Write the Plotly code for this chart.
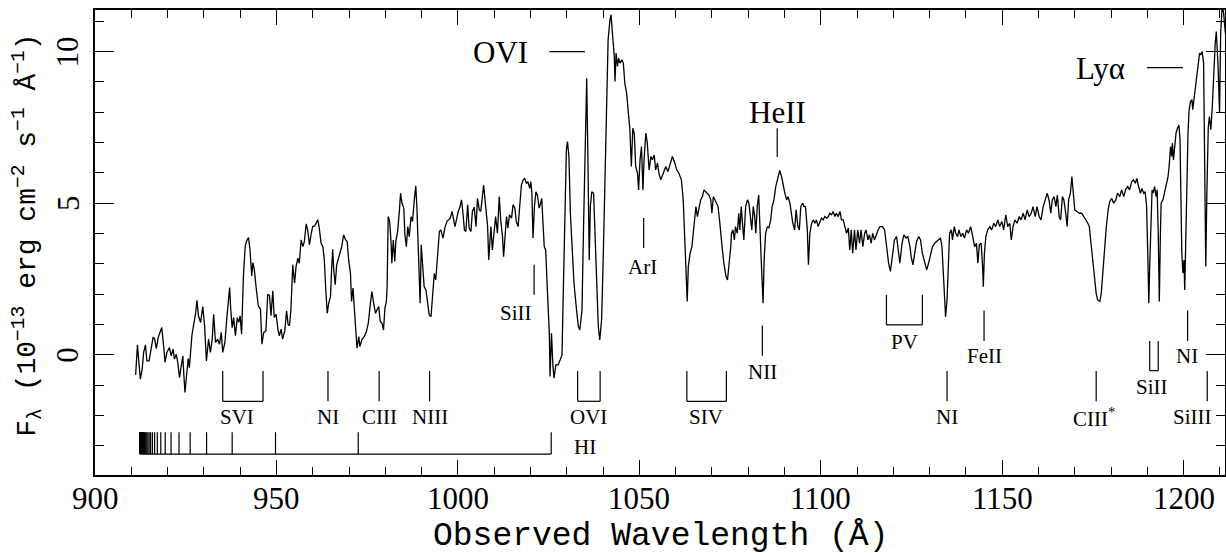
import plotly.graph_objects as go

# ---------------- spectrum ----------------
wavelength = [
911.2, 911.7, 912.1, 912.5, 913.0, 913.4, 913.9, 914.3, 914.9, 915.5, 916.0, 916.4, 916.9, 917.4, 918.0, 918.4,
918.9, 919.3, 919.8, 920.5, 921.0, 921.5, 921.9, 922.4, 922.8, 923.3, 923.7, 924.2, 924.5, 924.8, 925.3, 925.7,
926.0, 926.7, 927.2, 927.7, 928.1, 928.5, 929.1, 929.7, 930.2, 930.7, 931.3, 931.8, 932.3, 932.7, 933.2, 933.8,
934.3, 934.8, 935.2, 935.8, 936.3, 936.8, 937.1, 937.4, 937.8, 938.2, 938.7, 939.2, 939.6, 940.0, 940.4, 940.9,
941.4, 941.8, 942.3, 942.7, 943.2, 943.5, 943.9, 944.4, 945.0, 945.6, 946.0, 946.5, 947.1, 947.6, 948.1, 948.5,
949.0, 949.4, 949.9, 950.4, 950.8, 951.3, 951.7, 952.3, 952.8, 953.2, 953.6, 954.0,
954.5, 955.0, 955.4, 955.9, 956.3, 956.8, 957.3, 957.7, 958.2, 958.6, 959.1, 959.6, 960.0, 960.5, 960.9, 961.4,
961.8, 962.3, 962.8, 963.2, 963.6, 964.0, 964.4, 964.9, 965.2, 965.5, 965.8, 966.2, 966.6, 967.1, 967.6, 968.0,
968.5, 969.0, 969.5, 969.9, 970.4, 970.7, 971.1, 971.5, 971.8, 972.2, 972.7, 973.0, 973.6, 974.2, 974.8, 975.3,
975.9, 976.3, 976.8, 977.3, 977.7, 978.2, 978.6, 979.1, 979.5, 979.9, 980.3, 980.5, 980.8, 981.2, 981.6, 981.8,
982.2, 982.6, 982.9, 983.4, 983.9, 984.2, 984.6, 985.1, 985.4, 985.8, 986.2, 986.6, 987.1, 987.5, 988.0, 988.4,
988.7, 989.1, 989.4, 989.6, 989.9, 990.3, 990.7, 991.2, 991.7, 992.1, 992.6, 993.0, 993.5, 993.9, 994.4, 994.9,
995.3, 995.9, 996.4, 997.0, 997.4, 997.9, 998.4, 998.8, 999.2, 999.6, 1000.1, 1000.6, 1001.0, 1001.4, 1001.8, 1002.2,
1002.7, 1003.1, 1003.6, 1004.0, 1004.5, 1005.0, 1005.4, 1005.9, 1006.3, 1006.8, 1007.1, 1007.4, 1007.8, 1008.2, 1008.5,
1008.8, 1009.1, 1009.5, 1010.0, 1010.4, 1010.9, 1011.4, 1011.8, 1012.3, 1012.6, 1012.9, 1013.4, 1013.8, 1014.2, 1014.8,
1015.2, 1015.7, 1016.1, 1016.6, 1017.1, 1017.5, 1018.0, 1018.4, 1018.9, 1019.3, 1019.8, 1020.1, 1020.4, 1020.7, 1021.1,
1021.5, 1021.9, 1022.4, 1022.8, 1023.1,
1023.8, 1024.2, 1024.7, 1025.2, 1025.4, 1025.8, 1026.2, 1026.5, 1027.0, 1027.6, 1028.2, 1028.7, 1029.0, 1029.5, 1029.9,
1030.2, 1030.6, 1031.0, 1031.5, 1032.0, 1032.7, 1033.2, 1033.6, 1034.2, 1034.6, 1035.1, 1035.5, 1035.8, 1036.2, 1036.5,
1036.9, 1037.4, 1037.7, 1038.2, 1038.7, 1039.1, 1039.6, 1040.0, 1040.5, 1040.9, 1041.4, 1041.9, 1042.2, 1042.6, 1043.1,
1043.3, 1043.6, 1044.0, 1044.3, 1044.7, 1045.2, 1045.6, 1046.0, 1046.5, 1046.9, 1047.4, 1047.8, 1048.2, 1048.6, 1049.0,
1049.5, 1049.8, 1050.2, 1050.6, 1051.0, 1051.3, 1051.8, 1052.2, 1052.7, 1053.2, 1053.6, 1054.1, 1054.5, 1055.0, 1055.4,
1055.9, 1056.6, 1057.3, 1057.9, 1058.7, 1059.1, 1059.8, 1060.3, 1060.9, 1061.6, 1062.1, 1062.6, 1063.0, 1063.2, 1063.5,
1064.0, 1064.5, 1064.9, 1065.3, 1065.6, 1066.0, 1066.4, 1066.9, 1067.4, 1067.8, 1068.3, 1068.8, 1069.2, 1069.7, 1070.0,
1070.4, 1070.8, 1071.2, 1071.7, 1072.1, 1072.4, 1072.9, 1073.3, 1073.9, 1074.3, 1074.7, 1075.2, 1075.4, 1075.8, 1076.2,
1076.5, 1077.0, 1077.4, 1077.7, 1078.1, 1078.5, 1078.8, 1079.3, 1079.8, 1080.2, 1080.7, 1081.0, 1081.4, 1081.8, 1082.1,
1082.5, 1082.9, 1083.2, 1083.6, 1084.1, 1084.4, 1084.8, 1085.3, 1085.7, 1086.2, 1086.6, 1087.1, 1087.6, 1088.2, 1088.7,
1089.2, 1089.7, 1090.1, 1090.6, 1091.0, 1091.5, 1091.9, 1092.3, 1092.8, 1093.2, 1093.7, 1094.1, 1094.5, 1095.0, 1095.4,
1095.8, 1096.3, 1096.6, 1097.0, 1097.5, 1097.9, 1098.4, 1098.8, 1099.3, 1099.8, 1100.2, 1100.7, 1101.1, 1101.6, 1102.1,
1102.5, 1103.0, 1103.4, 1103.9, 1104.3, 1104.8, 1105.3, 1105.7, 1106.2, 1106.6, 1107.1, 1107.6, 1108.0, 1108.4, 1108.8,
1109.3, 1109.7, 1110.2, 1110.7, 1111.1, 1111.6, 1112.1, 1112.5, 1113.0, 1113.4, 1113.9, 1114.3, 1114.8, 1115.4, 1115.8,
1116.3,
1117.0, 1117.6, 1118.1, 1118.7, 1119.2, 1119.8, 1120.3, 1120.9, 1121.4, 1121.8, 1122.4, 1122.9, 1123.5, 1124.0, 1124.6,
1124.9, 1125.4, 1125.8, 1126.4, 1127.0, 1127.5, 1128.0, 1128.6, 1129.2, 1129.7, 1130.3, 1130.8, 1131.4, 1131.9, 1132.5,
1133.0, 1133.4, 1133.7, 1134.1, 1134.4, 1134.8, 1135.1, 1135.5, 1136.0, 1136.3, 1136.8, 1137.2, 1137.7, 1138.1, 1138.6,
1139.1, 1139.6, 1140.2, 1140.7, 1141.3, 1141.7, 1142.4, 1142.9, 1143.3, 1143.7, 1144.2, 1144.6, 1144.8, 1145.1, 1145.5,
1146.0, 1146.6, 1147.1, 1147.7, 1148.2, 1148.8, 1149.3, 1149.9, 1150.4, 1151.0, 1151.5, 1152.1, 1152.5, 1153.0, 1153.5,
1154.1, 1154.7, 1155.2, 1155.8, 1156.3, 1156.9, 1157.4, 1158.0, 1158.5, 1159.1, 1159.6, 1160.2, 1160.7, 1161.3, 1161.8,
1162.4, 1162.9, 1163.4, 1163.8, 1164.3, 1164.8, 1165.2, 1165.7, 1166.1, 1166.6, 1167.0, 1167.5, 1167.9, 1168.3, 1168.8,
1169.2, 1169.5, 1170.0, 1170.6, 1171.3, 1171.9, 1172.5, 1173.0, 1173.6, 1174.0, 1174.5, 1174.9, 1175.4, 1175.9, 1176.3,
1176.9, 1177.3, 1177.8, 1178.2, 1178.7, 1179.2, 1179.6, 1180.2, 1180.7, 1181.3, 1181.8, 1182.4, 1182.9, 1183.5, 1184.0,
1184.6, 1185.1, 1185.7, 1186.2, 1186.7, 1187.1, 1187.6, 1188.1, 1188.5, 1189.0, 1189.4, 1189.8, 1190.2, 1190.4, 1190.7,
1191.0, 1191.3, 1191.6, 1192.0, 1192.4, 1192.7, 1193.0, 1193.3, 1193.6, 1193.8, 1194.3, 1194.7, 1195.2, 1195.7, 1196.0,
1196.4, 1196.7, 1196.9, 1197.2, 1197.6, 1197.9, 1198.3, 1198.7, 1199.0, 1199.2, 1199.5, 1199.8, 1200.1, 1200.3, 1200.6,
1200.9, 1201.2, 1201.5, 1201.9, 1202.3, 1202.5, 1202.9, 1203.3, 1203.7, 1204.0, 1204.4, 1204.7, 1205.1, 1205.5, 1205.9,
1206.1, 1206.4, 1206.8, 1207.1, 1207.5, 1207.9, 1208.3, 1208.7, 1209.0, 1209.5, 1209.9, 1210.2, 1210.6, 1211.0, 1211.5,
]

flux = [
-0.66, 0.33, -0.25, -0.80, -0.47, 0.08, 0.33, -0.20, -0.20, 0.30, 0.57, 0.54, 0.21, 0.57, 0.74, 0.90,
0.30, -0.25, 0.08, 0.24, -0.03, 0.19, -0.14, 0.02, -0.25, -0.75, -0.42, -0.03, -0.69, -1.24, -0.58, -0.12,
-0.42, 0.63, 1.01, 1.34, 1.80, 1.29, 1.07, 1.59, 0.96, -0.20, 0.52, 0.08, 0.52, 1.34, 0.41, 0.52,
0.35, 0.74, 0.08, 0.41, 1.18, 1.73, 2.22, 1.51, 0.90, 1.23, 0.63, 1.23, 1.07, 1.29, 0.68, 2.60,
3.59, 3.76, 3.87, 3.48, 2.60, 3.04, 2.82, 2.22, 1.62, 1.51, 0.35, 0.74, 0.79, 2.00, 1.95, 1.29,
2.11, 1.23, 1.34, 0.85, 0.63, 0.85, 0.52, 0.79, 1.45, 1.01, 0.96, 1.51,
2.97, 2.36, 2.91, 3.19, 3.02, 3.79, 3.57, 3.74, 4.32, 4.12, 3.63, 4.01, 4.23, 4.25, 4.32, 4.45,
4.18, 3.68, 3.57, 3.13, 2.14, 1.37, 1.70, 1.92, 2.80, 3.48, 2.80, 2.31, 2.97, 3.19, 3.46, 3.57,
3.96, 3.81, 3.74, 3.13, 2.69, 1.76, 2.20, 1.48, 0.71, 0.22, 0.60, 0.27, 0.52, 0.60, 0.77, 1.04,
1.70, 2.09, 1.70, 1.37, 1.48, 1.59, 1.10, 1.04, 0.82, 1.54, 1.76, 2.25, 4.56, 4.40, 3.68, 3.02,
3.79, 3.08, 3.74, 4.07, 4.78, 5.33, 5.00, 4.84, 3.96, 3.57, 4.23, 3.90, 4.56, 4.40, 5.11, 5.57,
4.89, 3.63, 2.47, 1.70, 3.63, 3.02, 2.25, 2.14, 1.59, 1.32, 1.26, 1.81, 2.69, 2.47, 3.24, 4.07,
4.12, 3.85, 4.18, 4.40, 4.45, 4.51, 4.73, 4.51, 4.23, 4.45, 4.73, 4.89, 5.11, 4.67, 4.12, 4.07,
4.95, 4.18, 4.07, 4.73, 4.87, 4.23, 5.16, 4.78, 4.73, 5.27, 5.60, 5.22, 4.56, 4.23, 3.13,
3.85, 4.23, 3.46, 3.96, 4.56, 4.01, 5.22, 4.45, 3.90, 3.24, 3.90, 4.56, 4.18, 4.62, 4.51,
4.95, 4.84, 4.40, 4.23, 5.00, 5.60, 5.77, 5.82, 5.66, 5.71, 5.49, 5.71, 5.33, 3.85, 4.89,
5.38, 5.27, 4.84, 5.00, 5.16,
3.57, 3.46, 2.03, 0.71, -0.71, 0.71, -0.38, -0.77, -0.33, -0.33, -0.16, 0.00, 1.81, 5.11, 6.76,
7.03, 6.54, 4.67, 3.35, 2.36, 1.48, 0.93, 0.82, 1.48, 4.01, 7.09, 9.12, 6.76, 3.13, 4.89,
5.38, 5.33, 4.23, 2.25, 0.93, 0.49, 1.15, 2.91, 5.66, 8.41, 10.38, 11.04, 11.21, 10.60, 9.84,
9.01, 9.95, 9.51, 9.78, 9.62, 9.73, 9.62, 8.96, 8.63, 8.19, 7.42, 6.21, 7.47, 7.31, 6.21,
5.99, 5.44, 6.43, 6.87, 5.44, 6.43, 7.31, 6.98, 6.10, 6.54, 6.43, 6.59, 6.10, 6.32, 5.99,
5.77, 5.99, 6.21, 6.04, 6.43, 6.54, 6.32, 6.10, 5.99, 5.77, 5.11, 3.79, 2.58, 1.76, 2.91,
3.35, 3.57, 4.12, 4.56, 4.89, 4.56, 4.78, 5.11, 5.22, 5.44, 5.38, 5.33, 5.27, 5.11, 4.67,
5.22, 5.11, 5.00, 4.89, 4.45, 4.01, 3.46, 3.02, 2.58, 2.47, 2.91, 3.57, 4.01, 4.12, 3.79,
4.23, 4.01, 4.67, 4.12, 4.89, 4.23, 3.79, 4.89, 5.11, 5.00, 4.56, 4.12, 4.89, 4.56, 4.01,
4.89, 5.27, 4.56, 3.13, 1.70, 3.13, 4.01, 4.23, 4.18, 4.45, 4.89, 5.11, 5.55, 5.88, 6.08,
5.88, 5.55, 5.33, 5.11, 5.22, 5.00, 4.67, 4.34, 4.12, 4.78, 4.23, 4.12, 4.89, 5.00, 4.89,
4.89, 4.12, 2.97, 4.01, 4.34, 4.45, 4.34, 4.45, 4.23, 4.40, 4.51, 4.45, 4.56, 4.51, 4.56,
4.67, 4.62, 4.73, 4.56, 4.67, 4.56, 4.73, 4.45, 4.45, 4.23, 4.01, 4.18, 3.46, 4.12, 3.35,
4.12, 3.46, 4.12, 3.68, 4.12, 3.57, 4.01, 4.12, 3.79, 3.96, 3.68, 4.01, 3.79, 4.01, 4.12,
4.23,
4.23, 4.12, 3.57, 3.02, 2.75, 3.24, 3.79, 3.90, 3.46, 3.02, 3.68, 3.96, 3.85, 3.90, 3.57,
3.24, 2.97, 3.35, 3.74, 3.90, 3.79, 3.35, 3.02, 2.80, 3.02, 3.35, 3.57, 3.68, 3.74, 3.79,
3.85, 3.57, 2.80, 1.81, 1.26, 1.81, 2.91, 4.01, 4.12, 3.79, 4.23, 4.01, 3.90, 4.12, 3.90,
4.01, 3.85, 4.12, 4.01, 4.23, 4.01, 3.57, 3.68, 3.02, 3.63, 3.68, 2.91, 2.25, 3.35, 3.90,
4.12, 4.23, 4.12, 4.34, 4.23, 4.45, 4.23, 4.40, 4.12, 4.62, 4.23, 4.34, 3.79, 4.23, 4.45,
4.34, 4.56, 4.45, 4.67, 4.45, 4.78, 4.56, 4.67, 4.89, 4.56, 4.89, 4.56, 4.45, 4.89, 5.11,
5.33, 5.11, 4.67, 5.11, 5.22, 4.89, 5.27, 4.56, 4.45, 5.22, 5.11, 4.67, 4.23, 5.11, 5.33,
5.88, 5.33, 4.78, 4.73, 4.67, 4.67, 4.56, 4.45, 4.34, 4.23, 3.68, 3.02, 2.47, 2.03, 1.81,
1.76, 2.03, 2.80, 3.68, 4.23, 4.78, 5.05, 5.16, 5.00, 5.11, 5.33, 5.22, 5.44, 5.22, 5.44,
5.55, 5.44, 5.71, 5.77, 5.66, 5.82, 5.55, 5.33, 5.49, 5.33, 5.38, 4.89, 2.91, 1.70, 3.13,
4.89, 5.44, 5.33, 5.55, 5.22, 5.44, 4.01, 1.76, 4.01, 5.00, 5.11, 5.33, 5.49, 5.88, 6.21,
6.87, 6.54, 6.98, 6.43, 7.09, 7.31, 7.47, 7.58, 7.09, 5.11, 3.35, 2.69, 3.13, 2.14, 3.46,
5.55, 7.31, 8.08, 8.35, 8.41, 8.08, 8.46, 8.74, 9.18, 9.51, 9.95, 9.89, 10.00, 9.62, 6.21,
2.91, 5.33, 7.53, 7.86, 7.42, 8.19, 9.40, 10.27, 10.66, 9.50, 7.97, 10.60, 11.45, 11.30, 10.60,
]

# ---------------- axes ticks ----------------
x_tick_values = [900, 950, 1000, 1050, 1100, 1150, 1200]
x_tick_labels = ["900", "950", "1000", "1050", "1100", "1150", "1200"]
y_tick_values = [0, 5, 10]
y_tick_labels = ["0", "5", "10"]

# ---------------- line identifications ----------------
lyman_series = [1025.72, 972.54, 949.74, 937.80, 930.75, 926.23, 923.15, 920.96, 919.35, 918.13,
                917.18, 916.43, 915.82, 915.33, 914.92, 914.58, 914.29, 914.04, 913.83, 913.64,
                913.48, 913.34, 913.21, 913.10, 913.00, 912.92, 912.84, 912.77, 912.70, 912.64,
                912.59, 912.54, 912.49, 912.45, 912.41, 912.37, 912.34]

low_single_names = ["NI", "CIII", "NIII", "NI", "CIII<sup>*</sup>", "SiIII"]
low_single_waves = [964.2, 978.3, 992.2, 1134.8, 1175.9, 1206.5]

low_doublet_names = ["SVI", "OVI", "SIV"]
low_doublet_waves = [(935.2, 946.3), (1033.0, 1039.2), (1063.1, 1074.0)]

mid_single_names = ["SiII", "ArI", "NII", "FeII", "NI"]
mid_single_waves = [1021.0, 1051.2, 1083.9, 1145.0, 1201.1]

mid_doublet_names = ["PV", "SiII"]
mid_doublet_waves = [(1118.1, 1128.0), (1190.65, 1193.0)]

emission_names = ["OVI", "HeII", "Ly\u03b1"]
emission_waves = [1030.0, 1088.0, 1195.0]

# ---------------- figure ----------------
BLACK = "black"
LW = 1.2
SERIF = "Liberation Serif"
MONO = "Liberation Mono"

fig = go.Figure()
fig.add_trace(go.Scatter(x=wavelength, y=flux, mode="lines",
                         line=dict(color=BLACK, width=1.3), hoverinfo="skip"))

shapes = []
annots = []

def vline(x, y0, y1):
    shapes.append(dict(type="line", xref="x", yref="y", x0=x, x1=x, y0=y0, y1=y1,
                       line=dict(color=BLACK, width=LW)))

def hline(x0, x1, y):
    shapes.append(dict(type="line", xref="x", yref="y", x0=x0, x1=x1, y0=y, y1=y,
                       line=dict(color=BLACK, width=LW)))

def label(x, y, text, size=21, xanchor="center"):
    annots.append(dict(x=x, y=y, xref="x", yref="y", text=text, showarrow=False,
                       xanchor=xanchor, yanchor="middle",
                       font=dict(family=SERIF, size=size, color=BLACK)))

def bracket(a, b, top, bot):
    vline(a, top, bot)
    vline(b, top, bot)
    hline(a, b, bot)

# HI Lyman ladder
hi_base, hi_top = -3.27, -2.55
hline(min(lyman_series) - 0.05, max(lyman_series), hi_base)
for w in lyman_series:
    vline(w, hi_base, hi_top)
label(1035.0, -3.05, "HI")

# low row
low_top, low_bot, low_lab = -0.53, -1.53, -2.06
low_dx = [0, 0, 0, 0, -0.7, -4.0]
for n, w, dx in zip(low_single_names, low_single_waves, low_dx):
    vline(w, low_top, low_bot)
    label(w + dx, low_lab, n)
low_lab_x = [939.1, 1036.1, 1068.5]
for n, (a, b), lx in zip(low_doublet_names, low_doublet_waves, low_lab_x):
    bracket(a, b, low_top, low_bot)
    label(lx, low_lab, n)

# middle single lines
mid_ranges = [(2.97, 1.98), (4.51, 3.52), (0.97, -0.03), (1.46, 0.46), (1.46, 0.46)]
mid_labs = [(1016.0, 1.37), (1050.9, 2.91), (1083.9, -0.57), (1145.0, -0.05), (1201.0, -0.05)]
for n, w, (t, bt), (lx, ly) in zip(mid_single_names, mid_single_waves, mid_ranges, mid_labs):
    vline(w, t, bt)
    label(lx, ly, n)

# middle doublets
mid_d_ranges = [(1.98, 0.99), (0.46, -0.52)]
mid_d_labs = [(1123.1, 0.44), (1191.4, -1.07)]
for n, (a, b), (t, bt), (lx, ly) in zip(mid_doublet_names, mid_doublet_waves, mid_d_ranges, mid_d_labs):
    bracket(a, b, t, bt)
    label(lx, ly, n)

# emission lines
hline(1025.2, 1035.0, 10.0)
label(1020.0, 9.96, emission_names[0], size=31, xanchor="right")
vline(emission_waves[1], 6.52, 7.47)
label(emission_waves[1], 7.98, emission_names[1], size=31)
hline(1189.9, 1199.8, 9.47)
label(1177.0, 9.45, emission_names[2], size=31)

# x tick labels
for v, t in zip(x_tick_values, x_tick_labels):
    annots.append(dict(x=v, y=-0.05, xref="x", yref="paper", text=t, showarrow=False,
                       xanchor="center", yanchor="middle",
                       font=dict(family=SERIF, size=31, color=BLACK)))

# y tick labels (rotated, as in the original)
for v, t in zip(y_tick_values, y_tick_labels):
    annots.append(dict(x=-0.024, y=(v + 3.96) / 15.33, xref="paper", yref="paper", text=t,
                       showarrow=False, textangle=-90, xanchor="center", yanchor="middle",
                       font=dict(family=SERIF, size=31, color=BLACK)))

# axis titles
annots.append(dict(x=0.5, y=-0.133, xref="paper", yref="paper", showarrow=False,
                   text="Observed Wavelength (\u00c5)", xanchor="center", yanchor="middle",
                   font=dict(family=MONO, size=33, color=BLACK)))
annots.append(dict(x=-0.06, y=0.515, xref="paper", yref="paper", showarrow=False, textangle=-90,
                   text="F<sub>\u03bb</sub> (10<sup>\u221213</sup> erg cm<sup>\u22122</sup> s<sup>\u22121</sup> \u00c5<sup>\u22121</sup>)",
                   xanchor="center", yanchor="middle",
                   font=dict(family=MONO, size=28, color=BLACK)))

axis_common = dict(showline=True, linecolor=BLACK, linewidth=1.5, mirror="allticks",
                   ticks="inside", tickcolor=BLACK, tickwidth=1.3, showgrid=False, zeroline=False,
                   automargin=False, showticklabels=False)

fig.update_xaxes(range=[900, 1211.4], tickvals=x_tick_values,
                 ticklen=15, minor=dict(dtick=10, tick0=900, ticklen=8, ticks="inside",
                                        tickcolor=BLACK, tickwidth=1.3, showgrid=False),
                 **axis_common)
fig.update_yaxes(range=[-3.96, 11.37], tickvals=y_tick_values,
                 ticklen=19, minor=dict(dtick=1, tick0=0, ticklen=9, ticks="inside",
                                        tickcolor=BLACK, tickwidth=1.3, showgrid=False),
                 **axis_common)

fig.update_layout(width=1226, height=553, margin=dict(l=95, r=1, t=10, b=78),
                  plot_bgcolor="white", paper_bgcolor="white", showlegend=False,
                  shapes=shapes, annotations=annots)

fig.write_html("out.html", config={"displayModeBar": False},
               post_script="document.body.style.margin='0px';document.body.style.overflow='hidden';")
